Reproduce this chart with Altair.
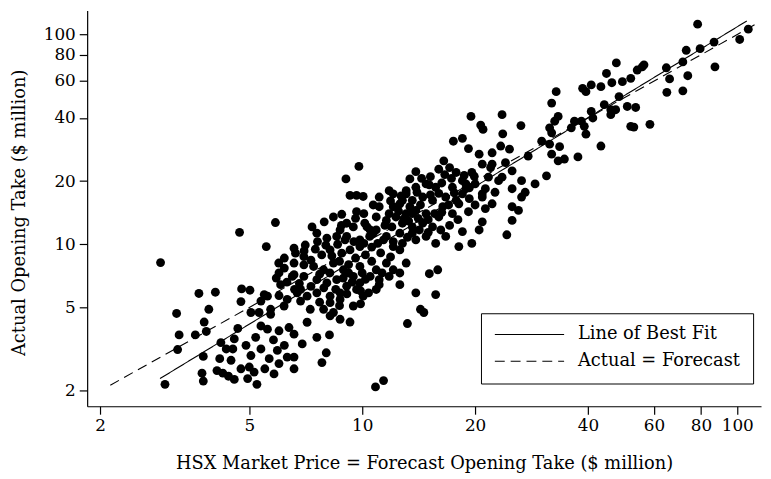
import altair as alt
import pandas as pd

# HSX forecast (x) and actual opening take (y), $ million
forecast = [
    3.67, 4.06, 4.77, 5.02, 4.75, 3.20, 3.90, 3.79, 3.84, 3.59, 3.25, 3.22, 3.77, 3.74, 3.77, 2.98,
    4.25, 4.56, 4.75, 4.95, 5.15, 5.24, 5.05, 5.20, 4.56, 4.52, 4.34, 4.17, 4.47, 5.37, 5.65, 5.94,
    6.31, 6.58, 6.58, 5.82, 6.92, 4.66, 5.37, 5.59, 6.00, 6.38, 6.58, 5.70, 5.31, 5.05, 5.37, 6.06,
    6.00, 6.58, 6.31, 6.85, 6.85, 5.48, 7.13, 2.90, 4.71, 5.55, 5.99, 5.87, 9.05, 9.28, 9.66, 10.06,
    6.64, 7.05, 7.50, 7.35, 7.57, 7.92, 8.38, 8.82, 9.66, 9.47, 10.16, 8.05, 8.55, 9.00, 8.21, 8.82,
    9.28, 9.86, 10.47, 10.9, 11.4, 12.1, 12.6, 13.1, 12.6, 11.6, 10.9, 10.5, 11.1, 9.86, 9.47, 8.91,
    8.38, 7.89, 7.42, 6.99, 6.58, 6.51, 6.99, 7.57, 8.05, 8.55, 9.09, 9.66, 10.06, 9.47, 8.73, 8.21,
    7.57, 7.13, 6.71, 7.27, 7.89, 8.38, 5.70, 6.19, 5.59, 11.8, 11.1, 11.1, 11.8, 12.6, 13.1, 13.4,
    13.6, 12.8, 13.6, 13.9, 12.1, 6.58, 6.99, 19.5, 23.6, 26.5, 20.7, 21.0, 23.7, 17.5, 18.5, 19.2,
    22.2, 23.4, 24.7, 20.5, 20.9, 24.1, 25.1, 26.6, 26.6, 25.1, 23.1, 21.7, 19.6, 22.0, 21.3, 20.9,
    22.2, 21.3, 25.1, 26.1, 25.1, 24.3, 20.9, 20.5, 19.6, 18.5, 9.80, 13.9, 16.5, 16.0, 17.1, 17.8,
    18.5, 17.4, 18.9, 19.3, 18.1, 16.7, 15.7, 14.8, 13.9, 13.1, 12.1, 12.1, 12.8, 13.6, 14.5, 15.4,
    16.4, 17.4, 16.0, 14.8, 13.9, 13.1, 12.3, 11.6, 10.9, 10.3, 9.09, 10.7, 11.6, 12.6, 13.6, 14.5,
    15.4, 14.8, 13.9, 15.7, 16.7, 18.1, 12.8, 9.86, 9.09, 8.73, 47.6, 44.8, 46.3, 49.4, 52.0, 54.1,
    55.8, 38.7, 40.8, 43.3, 39.5, 32.9, 32.0, 44.2, 46.0, 47.4, 48.4, 50.9, 53.6, 40.8, 41.2, 46.0,
    52.0, 53.0, 33.3, 32.6, 31.6, 36.8, 38.4, 36.1, 39.1, 39.5, 43.3, 32.0, 30.1, 31.6, 33.6, 32.0,
    33.3, 34.6, 37.6, 27.7, 22.2, 23.6, 31.0, 28.9, 27.2, 20.9, 22.6, 18.9, 78.4, 107.0, 101.5, 86.7,
    79.6, 73.1, 71.6, 64.7, 66.0, 73.8, 87.2, 56.4, 64.9, 71.6, 58.5, 15.7, 15.1, 15.9, 14.3, 14.6,
    13.2, 7.57, 8.18, 8.02, 7.81, 10.85, 11.4, 9.28, 8.73, 8.21, 10.4, 10.9, 11.1, 11.8, 12.6, 8.21,
    8.73, 9.86,
]
actual = [
    5.83, 5.91, 6.13, 6.04, 5.33, 4.68, 4.90, 4.26, 3.84, 3.70, 3.70, 3.15, 2.92, 2.43, 2.23, 2.15,
    2.43, 2.27, 2.55, 2.29, 2.46, 2.15, 2.95, 3.60, 3.54, 3.17, 3.17, 2.85, 2.80, 3.17, 2.85, 3.12,
    2.90, 2.90, 2.55, 2.41, 3.35, 3.97, 4.08, 3.94, 3.87, 4.01, 3.73, 4.64, 4.73, 4.73, 5.36, 6.42,
    7.30, 7.16, 5.46, 5.36, 6.09, 5.76, 4.25, 8.18, 11.4, 9.75, 8.14, 12.7, 20.5, 17.1, 17.1, 16.9,
    9.07, 9.92, 9.48, 12.1, 11.3, 12.8, 13.5, 13.9, 14.3, 12.1, 12.6, 10.7, 10.9, 10.5, 9.40, 9.07,
    9.40, 9.75, 10.9, 11.7, 10.5, 9.75, 9.40, 8.14, 6.42, 8.14, 7.56, 7.03, 6.42, 7.84, 7.03, 7.56,
    8.14, 7.56, 7.84, 7.98, 8.14, 7.03, 7.03, 6.78, 6.54, 6.78, 6.31, 6.09, 5.66, 5.08, 5.46, 5.66,
    5.87, 5.66, 5.87, 4.90, 4.90, 4.73, 4.90, 5.08, 5.66, 18.0, 16.8, 15.1, 14.0, 15.6, 17.4, 20.5,
    14.0, 12.6, 11.3, 5.87, 7.56, 9.58, 8.74, 40.7, 41.5, 36.8, 37.0, 35.3, 33.6, 31.0, 32.0, 28.6,
    27.3, 29.4, 28.4, 26.9, 24.1, 24.5, 22.4, 20.1, 16.8, 18.4, 20.1, 20.9, 22.0, 23.2, 18.4, 16.8,
    15.6, 14.8, 15.1, 14.5, 13.0, 11.1, 12.8, 11.7, 10.1, 11.5, 23.5, 22.2, 25.0, 22.8, 23.2, 22.0,
    20.1, 18.7, 18.4, 16.5, 15.6, 16.8, 18.7, 19.4, 18.7, 18.0, 17.4, 15.1, 16.2, 16.2, 16.8, 16.2,
    15.1, 14.0, 13.5, 14.0, 14.5, 14.0, 13.5, 13.0, 13.5, 12.1, 12.6, 11.3, 10.9, 11.3, 12.1, 12.6,
    12.1, 10.9, 10.5, 10.1, 10.9, 9.75, 10.1, 10.5, 10.9, 11.7, 73.2, 65.2, 58.9, 59.6, 61.8, 67.7,
    70.1, 55.4, 57.5, 56.4, 53.4, 53.4, 47.1, 46.3, 43.8, 43.8, 50.6, 45.4, 44.9, 43.0, 40.0, 41.5,
    36.5, 36.2, 40.7, 38.6, 35.9, 38.6, 38.6, 35.9, 36.5, 33.5, 29.4, 34.0, 31.0, 30.0, 29.2, 26.9,
    25.0, 25.5, 26.1, 26.3, 24.1, 20.9, 21.2, 19.4, 17.7, 17.4, 17.7, 19.4, 112.0, 106.0, 94.7, 92.0,
    85.6, 84.1, 74.0, 69.4, 61.4, 63.6, 70.1, 71.7, 53.0, 53.9, 37.3, 5.76, 7.24, 7.56, 4.90, 4.73,
    4.19, 3.60, 3.70, 3.04, 2.73, 2.09, 2.24, 4.26, 4.39, 4.56, 5.87, 6.09, 6.78, 7.03, 7.30, 5.27,
    5.87, 6.54,
]

# Further points read inside the two dense clusters and the lower-left group
forecast_dense = [
    7.3, 7.8, 8.3, 8.7, 9.2, 9.6, 10.2, 10.6, 7.7, 8.2, 9.2, 10.0, 10.2, 9.4, 8.9, 7.9,
    8.5, 9.1, 9.9, 7.3, 6.8, 6.3, 6.2, 7.0, 8.0, 8.6, 9.5, 10.1, 10.6, 11.2, 11.9, 11.3,
    7.6, 6.2, 5.9, 6.6, 6.0, 7.7, 8.7, 9.9,
    11.5, 12.0, 12.9, 13.3, 14.1, 15.0, 15.6, 16.3, 17.0, 17.8, 18.5, 19.3, 20.0, 16.0, 15.2, 14.3,
    13.4, 12.5, 11.9, 12.7, 14.0, 15.1, 16.3, 17.3, 16.6, 15.2, 14.4, 17.6, 18.7, 19.9, 20.0, 19.2,
    18.0, 17.1, 16.2, 15.0, 14.2, 13.2, 12.1, 11.0, 10.5, 10.1, 10.7, 9.6, 8.8,
    4.1, 4.4, 5.0, 5.5, 6.0, 4.9, 4.2, 5.8, 6.2,
]
actual_dense = [
    8.4, 8.9, 8.8, 8.3, 8.0, 8.6, 8.9, 8.3, 7.2, 7.3, 7.3, 7.3, 6.8, 6.6, 6.9, 6.2,
    6.1, 5.8, 6.0, 6.3, 6.5, 6.6, 7.7, 9.3, 9.9, 10.0, 10.3, 10.1, 9.7, 9.1, 8.7, 7.3,
    10.3, 8.6, 6.9, 6.1, 5.7, 5.3, 5.1, 5.2,
    12.3, 12.1, 13.2, 12.9, 13.3, 13.1, 14.0, 14.2, 15.4, 16.2, 17.4, 18.6, 19.4, 17.5, 17.2, 15.4,
    15.1, 14.4, 16.1, 17.0, 17.7, 19.2, 19.6, 20.6, 21.5, 21.0, 20.6, 17.6, 21.3, 21.1, 15.4, 14.3,
    13.1, 12.3, 11.7, 11.4, 11.7, 10.8, 10.3, 10.1, 11.7, 14.0, 15.4, 13.3, 12.3,
    2.5, 2.35, 2.6, 2.55, 2.7, 3.3, 3.4, 3.5, 3.3,
]

# Line of best fit (log-log) end points and the 45-degree line
fit_x = [2.89, 106.0]
fit_y = [2.29, 116.0]
diag = [2.13, 113.0]
series_names = ["Line of Best Fit", "Actual = Forecast"]

x_ticks = [2, 5, 10, 20, 40, 60, 80, 100]
y_ticks = [2, 5, 10, 20, 40, 60, 80, 100]

FONT = "DejaVu Serif"

pts = pd.DataFrame({
    "forecast": forecast + forecast_dense,
    "actual": actual + actual_dense,
})
lines = pd.DataFrame({
    "forecast": fit_x + diag,
    "actual": fit_y + diag,
    "series": [series_names[0]] * 2 + [series_names[1]] * 2,
    "ord": [0, 1, 0, 1],
})

xscale = alt.Scale(type="log", domain=[1.848, 115.7], nice=False)
yscale = alt.Scale(type="log", domain=[1.69, 130.2], nice=False)

xaxis = alt.Axis(
    values=x_ticks, format="d", grid=False, tickSize=8, labelPadding=3,
    title="HSX Market Price = Forecast Opening Take ($ million)",
    titleY=58, titleBaseline="middle",
)
yaxis = alt.Axis(
    values=y_ticks, format="d", grid=False, tickSize=8, labelPadding=4,
    title="Actual Opening Take ($ million)",
    titleX=-68, titleY=204, titleAngle=270, titleBaseline="middle",
)

points = alt.Chart(pts).mark_circle(size=80, color="black", opacity=1).encode(
    x=alt.X("forecast:Q", scale=xscale, axis=xaxis),
    y=alt.Y("actual:Q", scale=yscale, axis=yaxis),
)

fitlines = alt.Chart(lines).mark_line(color="black", strokeWidth=1.1).encode(
    x=alt.X("forecast:Q", scale=xscale),
    y=alt.Y("actual:Q", scale=yscale),
    order="ord:O",
    strokeDash=alt.StrokeDash(
        "series:N",
        scale=alt.Scale(domain=series_names, range=[[1, 0], [10, 6]]),
        legend=alt.Legend(
            title=None, orient="none", legendX=398, legendY=306,
            strokeColor="black", fillColor="white", padding=13,
            symbolType="stroke", symbolSize=4900, symbolStrokeWidth=1.2,
            symbolStrokeColor="black", labelFont=FONT, labelFontSize=18,
            labelColor="black", labelOffset=13, rowPadding=8, clipHeight=17,
            labelLimit=300,
        ),
    ),
)

chart = alt.layer(points, fitlines).properties(
    width=681, height=400,
    autosize=alt.AutoSizeParams(type="none"),
    padding={"left": 80, "top": 0, "right": 2, "bottom": 70},
).configure_axis(
    labelFont=FONT, titleFont=FONT, labelFontSize=17, titleFontSize=18,
    titleFontWeight="normal", labelColor="black", titleColor="black",
    domainColor="black", tickColor="black", domainWidth=1.2, tickWidth=1.2,
).configure_view(stroke="transparent")

chart.save("out.html", embed_options={"renderer": "svg", "actions": False})
